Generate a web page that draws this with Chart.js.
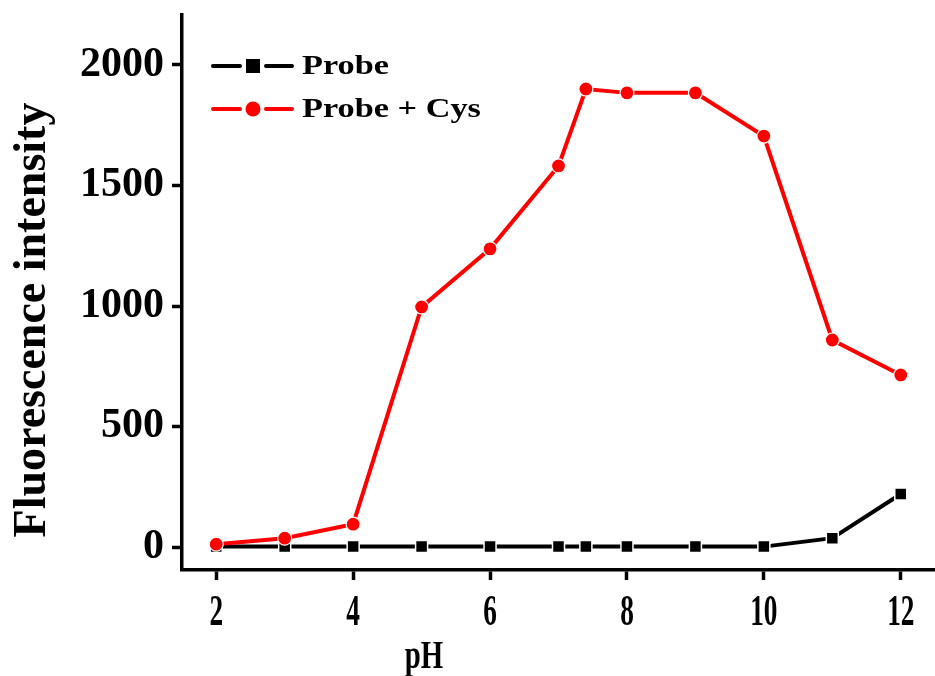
<!DOCTYPE html>
<html>
<head>
<meta charset="utf-8">
<script src="https://cdn.jsdelivr.net/npm/chart.js@4/dist/chart.umd.min.js"></script>
<style>
  html, body { margin: 0; padding: 0; background: #fff; overflow: hidden; }
  #wrap { width: 935px; height: 676px; position: relative; }
  canvas { display: block; }
</style>
</head>
<body>
<div id="wrap"><canvas id="chart"></canvas></div>
<script>
// pH values at which fluorescence was measured
const phValues = [2, 3, 4, 5, 6, 7, 7.4, 8, 9, 10, 11, 12];
// Fluorescence intensity of the probe alone
const probeIntensity = [2, 2, 2, 2, 2, 2, 2, 2, 2, 2, 37, 220];
// Fluorescence intensity of the probe with cysteine
const probeCysIntensity = [12, 37, 95, 996, 1237, 1581, 1900, 1884, 1884, 1705, 859, 714];
// Axis tick values
const xTickValues = [2, 4, 6, 8, 10, 12];
const yTickValues = [0, 500, 1000, 1500, 2000];

const seriesNames = ['Probe', 'Probe + Cys'];
const FONT = '"Liberation Serif", "Times New Roman", serif';

const toPoints = (ys) => phValues.map((x, i) => ({ x, y: ys[i] }));

// Axis titles, x tick labels and the legend are drawn by hand
const annotate = {
  id: 'annotate',
  afterDraw(chart) {
    const ctx = chart.ctx;
    const xs = chart.scales.x;
    ctx.save();
    ctx.fillStyle = '#000';

    // x tick labels (narrow bold serif)
    ctx.font = 'bold 44px ' + FONT;
    ctx.textAlign = 'center';
    ctx.textBaseline = 'alphabetic';
    xTickValues.forEach(v => {
      const px = xs.getPixelForValue(v);
      ctx.save();
      ctx.translate(px, 625);
      ctx.scale(0.62, 1);
      ctx.fillText(String(v), 0, 0);
      ctx.restore();
    });

    // x axis title
    ctx.save();
    ctx.font = 'bold 40px ' + FONT;
    ctx.translate(424, 668);
    ctx.scale(0.72, 1);
    ctx.fillText('pH', 0, 0);
    ctx.restore();

    // y axis title
    ctx.save();
    ctx.font = 'bold 46px ' + FONT;
    ctx.translate(45, 320);
    ctx.rotate(-Math.PI / 2);
    ctx.fillText('Fluorescence intensity', 0, 0);
    ctx.restore();

    // legend
    const ds = chart.data.datasets;
    const rows = [
      { ds: ds[1], y: 66 },
      { ds: ds[0], y: 109 }
    ];
    rows.forEach(r => {
      const c = r.ds.borderColor;
      ctx.strokeStyle = c;
      ctx.lineWidth = 4;
      ctx.lineCap = 'round';
      ctx.beginPath();
      ctx.moveTo(213, r.y); ctx.lineTo(240, r.y);
      ctx.moveTo(266, r.y); ctx.lineTo(292, r.y);
      ctx.stroke();
      ctx.fillStyle = c;
      if (r.ds.pointStyle === 'rect') {
        ctx.fillRect(246, r.y - 7, 14, 14);
      } else {
        ctx.beginPath();
        ctx.arc(253, r.y, 7.5, 0, Math.PI * 2);
        ctx.fill();
      }
      ctx.fillStyle = '#000';
      ctx.save();
      ctx.font = 'bold 27px ' + FONT;
      ctx.textAlign = 'left';
      ctx.textBaseline = 'middle';
      ctx.translate(302, r.y + 1);
      ctx.scale(1.27, 1);
      ctx.fillText(r.ds.label, 0, 0);
      ctx.restore();
    });
    ctx.restore();
  }
};

new Chart(document.getElementById('chart'), {
  type: 'line',
  data: {
    datasets: [
      {
        label: seriesNames[1],
        data: toPoints(probeCysIntensity),
        borderColor: '#ff0000',
        backgroundColor: '#ff0000',
        borderWidth: 4,
        pointStyle: 'circle',
        pointRadius: 7,
        pointBackgroundColor: '#ff0000',
        pointBorderColor: '#ffffff',
        pointBorderWidth: 1.2,
        tension: 0,
        order: 0
      },
      {
        label: seriesNames[0],
        data: toPoints(probeIntensity),
        borderColor: '#000000',
        backgroundColor: '#000000',
        borderWidth: 4,
        pointStyle: 'rect',
        pointRadius: 8.5,
        pointBackgroundColor: '#000000',
        pointBorderColor: '#ffffff',
        pointBorderWidth: 1.5,
        tension: 0,
        order: 1
      }
    ]
  },
  options: {
    responsive: true,
    maintainAspectRatio: false,
    animation: false,
    layout: { autoPadding: false, padding: { top: 15, right: 0, left: 0, bottom: 0 } },
    plugins: {
      legend: { display: false },
      tooltip: { enabled: false }
    },
    scales: {
      x: {
        type: 'linear',
        min: 1.5,
        max: 12.5,
        afterBuildTicks: (s) => { s.ticks = xTickValues.map(v => ({ value: v })); },
        afterFit: (s) => { s.height = 106; s.paddingLeft = 0; s.paddingRight = 0; },
        ticks: { display: false },
        grid: {
          drawOnChartArea: false,
          drawTicks: true,
          tickLength: 10,
          tickWidth: 3.5,
          tickColor: '#000'
        },
        border: { display: true, color: '#000', width: 3.5 }
      },
      y: {
        type: 'linear',
        min: -95,
        max: 2207,
        afterBuildTicks: (s) => { s.ticks = yTickValues.map(v => ({ value: v })); },
        afterFit: (s) => { s.width = 182; s.paddingTop = 0; s.paddingBottom = 0; },
        ticks: {
          color: '#000',
          padding: 8,
          font: { family: FONT, size: 42, weight: 'bold' },
          callback: (v) => String(v)
        },
        grid: {
          drawOnChartArea: false,
          drawTicks: true,
          tickLength: 10,
          tickWidth: 3.5,
          tickColor: '#000'
        },
        border: { display: true, color: '#000', width: 3.5 }
      }
    }
  },
  plugins: [annotate]
});
</script>
</body>
</html>
